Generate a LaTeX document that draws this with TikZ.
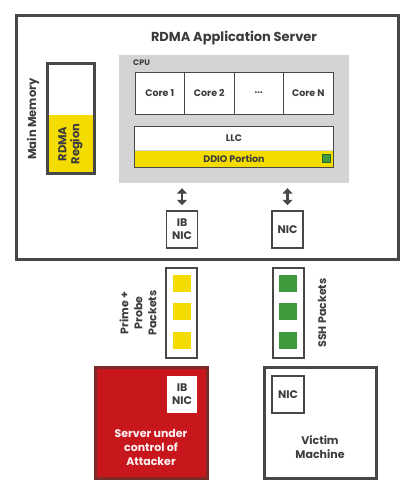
\documentclass[tikz,border=0pt]{standalone}
\usepackage{fontspec}
\setmainfont{Poppins}
\usetikzlibrary{arrows.meta,positioning}

\definecolor{edge}{HTML}{474747}
\definecolor{txt}{HTML}{3C3C3C}
\definecolor{cpugray}{HTML}{D4D4D4}
\definecolor{ddio}{HTML}{F5DC00}
\definecolor{ssh}{HTML}{3E9A3C}
\definecolor{attack}{HTML}{C8161D}
\definecolor{attackedge}{HTML}{7A2B26}

\tikzset{
  box/.style={draw=edge, line width=1pt, fill=white, inner sep=0pt, text=txt, align=center,
    font=\bfseries\fontsize{9.5}{11}\selectfont},
  nicbox/.style={box, line width=1.5pt, font=\bfseries\fontsize{11}{13}\selectfont,
    minimum width=31, minimum height=37},
  frame/.style={draw=edge, line width=3pt, inner sep=0pt},
  pkt/.style={inner sep=0pt, minimum width=18, minimum height=17},
  lbl/.style={text=txt, align=center, inner sep=0pt, font=\bfseries\fontsize{11}{14}\selectfont},
  biarrow/.style={{Triangle[width=10pt,length=5.5pt]}-{Triangle[width=10pt,length=5.5pt]},
    line width=2.6pt, draw=edge, shorten <=5pt, shorten >=5pt}
}

\begin{document}
\begin{tikzpicture}[x=1pt,y=-1pt]
\useasboundingbox[fill=white] (0,0) rectangle (418,495);

% RDMA application server
\node[frame, minimum width=382, minimum height=243] (server) at (207,137.5) {};
\node[lbl, font=\bfseries\fontsize{13}{15}\selectfont] (title) at (234,38) {RDMA Application Server};

% Main memory
\node[lbl, rotate=90, font=\bfseries\fontsize{11.5}{13}\selectfont] (memlabel) at (33,119) {Main Memory};
\node[fill=ddio, inner sep=0pt, minimum width=58, minimum height=47, rotate=90, text=txt,
  align=center, font=\bfseries\fontsize{11.5}{13}\selectfont] (rdma) at (70.5,144) {RDMA\\Region};
\node[frame, minimum width=47, minimum height=109] (mem) at (70.5,118.5) {};

% CPU
\node[fill=cpugray, minimum width=230, minimum height=128, inner sep=0pt] (cpu) at (234,119) {};
\node[lbl, anchor=west, font=\bfseries\fontsize{8}{9}\selectfont] (cpulabel) at (133,63) {CPU};
\foreach \i/\t in {0/{Core 1},1/{Core 2},2/{...},3/{Core N}}
  \node[box, minimum width=49.5, minimum height=42] (core\i) at (159.75+49.5*\i,93) {\t};

\node[box, draw=none, minimum width=198, minimum height=23] (llc) at (234,138.5) {LLC};
\node[box, draw=none, fill=ddio, minimum width=198, minimum height=16, anchor=north] (ddioportion) at (llc.south) {DDIO Portion};
\draw[edge, line width=1pt] (llc.north west) rectangle (ddioportion.south east);
\node[pkt, fill=ssh, draw=ssh!70!black, line width=0.4pt, minimum width=8, minimum height=8] (ddiopkt) at (326,158) {};

% NICs of the server
\node[nicbox] (ibnic) at (182,229.5) {IB\\NIC};
\node[nicbox] (nic) at (287.5,229.5) {NIC};
\draw[biarrow] (ibnic.north |- cpu.south) -- (ibnic.north);
\draw[biarrow] (nic.north |- cpu.south) -- (nic.north);

% Packets
\node[box, line width=1.5pt, minimum width=31, minimum height=90] (primebox) at (181.5,313) {};
\node[box, line width=1.5pt, minimum width=31, minimum height=90] (sshbox) at (288.5,313) {};
\foreach \y [count=\n] in {283.5,311.5,340.5} {
  \node[pkt, fill=ddio] (prime\n) at (182,\y) {};
  \node[pkt, fill=ssh] (ssh\n) at (288,\y) {};
}
\node[lbl, rotate=90] (primelabel) at (138,313) {Prime +\\Probe\\Packets};
\node[lbl, rotate=90] (sshlabel) at (322,313) {SSH Packets};

% Attacker
\node[frame, draw=attackedge, fill=attack, minimum width=112, minimum height=111] (attacker) at (151,422.5) {};
\node[nicbox, draw=none, minimum width=30] (ibnic2) at (182,394.5) {IB\\NIC};
\node[lbl, text=red!5] (attackerlabel) at (151,447) {Server under\\control of\\Attacker};

% Victim
\node[frame, fill=white, minimum width=112, minimum height=111] (victim) at (320,422.5) {};
\node[nicbox, minimum width=32] (nic2) at (288,394.5) {NIC};
\node[lbl] (victimlabel) at (320,447) {Victim\\Machine};
\end{tikzpicture}
\end{document}
